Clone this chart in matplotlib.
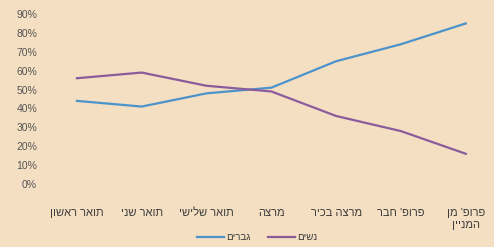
import matplotlib
matplotlib.use("Agg")
import matplotlib.pyplot as plt
from matplotlib.ticker import FuncFormatter

categories = ["תואר ראשון", "תואר שני", "תואר שלישי", "מרצה", "מרצה בכיר", "פרופ' חבר", "פרופ' מן\nהמניין"]
men = [44, 41, 48, 51, 65, 74, 85]
women = [56, 59, 52, 49, 36, 28, 16]
series_names = ["גברים", "נשים"]
yticks = [0, 10, 20, 30, 40, 50, 60, 70, 80, 90]

def rtl(s):
    return "\n".join(line[::-1] for line in s.split("\n"))

bg = "#F4DFC2"
plt.rcParams['font.family'] = ['Liberation Sans', 'DejaVu Sans']

fig = plt.figure(figsize=(4.94, 2.47), dpi=100, facecolor=bg)
ax = fig.add_axes([44.5/494, 1-184/247, (493-44.5)/494, (184-14)/247])
ax.set_facecolor(bg)

x = list(range(len(categories)))
ax.plot(x, men, color="#4C93CC", lw=1.6, label=rtl(series_names[0]))
ax.plot(x, women, color="#8A5C9C", lw=1.6, label=rtl(series_names[1]))

ax.set_xlim(-0.5, 6.42)
ax.set_ylim(0, 90)
ax.set_yticks(yticks)
ax.yaxis.set_major_formatter(FuncFormatter(lambda v, p: f"{int(v)}%"))
ax.set_xticks(x)
ax.set_xticklabels([rtl(c) for c in categories], fontsize=8, color="#3c3c3c", linespacing=1.35)
for lab in ax.get_xticklabels():
    lab.set_verticalalignment("top")
ax.tick_params(axis='y', labelsize=7.5, colors="#555555", length=0, pad=5.4)
ax.tick_params(axis='x', length=0, pad=17)
for s in ax.spines.values():
    s.set_visible(False)

leg = fig.legend(loc="center", bbox_to_anchor=(0.52, 1-237/247), ncol=2, frameon=False,
                 fontsize=7, handlelength=2.8, handletextpad=0.2, columnspacing=1.8)
for t in leg.get_texts():
    t.set_color("#3c3c3c")

fig.savefig("out.png", dpi=100, facecolor=bg)
